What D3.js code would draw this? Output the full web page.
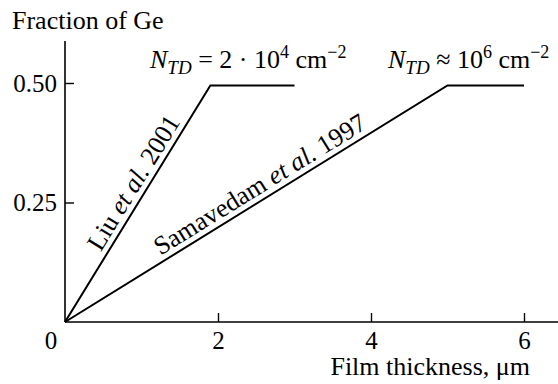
<!DOCTYPE html>
<html>
<head>
<meta charset="utf-8">
<script src="https://cdn.jsdelivr.net/npm/d3@7"></script>
<style>
  body { margin: 0; background: #fff; }
  svg { display: block; font-family: "Liberation Serif", "Times New Roman", serif; }
</style>
</head>
<body>
<svg id="chart" width="558" height="384"></svg>
<script>
// data
const xTicks = [2, 4, 6];
const yTicks = [0.25, 0.5];
const liuX = [0, 1.9, 3.0];
const liuY = [0, 0.495, 0.495];
const samX = [0, 5.0, 6.0];
const samY = [0, 0.495, 0.495];

const svg = d3.select("#chart");
const width = 558;
const fs = 26;

const x = d3.scaleLinear().domain([0, 6]).range([65, 524]);
const y = d3.scaleLinear().domain([0, 0.5]).range([322, 83]);

// axes lines
svg.append("line")
  .attr("x1", x(0)).attr("x2", width)
  .attr("y1", y(0)).attr("y2", y(0))
  .attr("stroke", "#000").attr("stroke-width", 1.6);
svg.append("line")
  .attr("x1", x(0)).attr("x2", x(0))
  .attr("y1", y(0)).attr("y2", 41)
  .attr("stroke", "#000").attr("stroke-width", 1.6);

// x ticks (pointing up, inside)
const xAxis = d3.axisBottom(x).tickValues(xTicks).tickSizeInner(-9).tickSizeOuter(0)
  .tickPadding(9).tickFormat(d3.format("d"));
svg.append("g")
  .attr("transform", `translate(0,${y(0)})`)
  .call(xAxis)
  .call((g) => g.select(".domain").remove())
  .call((g) => g.selectAll(".tick line").attr("stroke-width", 1.4))
  .call((g) => g.selectAll(".tick text").attr("font-size", 25).attr("font-family", "Liberation Serif"));

// y ticks (pointing right, inside)
const yAxis = d3.axisLeft(y).tickValues(yTicks).tickSizeInner(-9).tickSizeOuter(0)
  .tickFormat(d3.format(".2f"));
svg.append("g")
  .attr("transform", `translate(${x(0)},0)`)
  .call(yAxis)
  .call((g) => g.select(".domain").remove())
  .call((g) => g.selectAll(".tick line").attr("stroke-width", 1.4))
  .call((g) => g.selectAll(".tick text").attr("font-size", 25).attr("font-family", "Liberation Serif")
    .attr("x", -8));

// origin label
svg.append("text").attr("x", 51).attr("y", 349)
  .attr("text-anchor", "middle").attr("font-size", 25).text("0");

// titles
svg.append("text").attr("x", 12).attr("y", 29).attr("font-size", fs).text("Fraction of Ge");
svg.append("text").attr("x", 530).attr("y", 375).attr("text-anchor", "end")
  .attr("font-size", fs).text("Film thickness, μm");

// lines
const line = d3.line().x((d) => x(d[0])).y((d) => y(d[1]));
[[liuX, liuY], [samX, samY]].forEach(([xs, ys]) => {
  svg.append("path")
    .datum(xs.map((v, i) => [v, ys[i]]))
    .attr("d", line)
    .attr("fill", "none")
    .attr("stroke", "#000")
    .attr("stroke-width", 2);
});

// rotated labels along the rising segments
function slopeLabel(xs, ys, along, offset, parts) {
  const x0 = x(xs[0]), y0 = y(ys[0]);
  const dx = x(xs[1]) - x0, dy = y(ys[1]) - y0;
  const len = Math.hypot(dx, dy);
  const ux = dx / len, uy = dy / len;
  // normal pointing up-left of the line
  const nx = uy, ny = -ux;
  const px = x0 + ux * along + nx * offset;
  const py = y0 + uy * along + ny * offset;
  const ang = Math.atan2(dy, dx) * 180 / Math.PI;
  const t = svg.append("text")
    .attr("transform", `translate(${px},${py}) rotate(${ang})`)
    .attr("font-size", fs);
  parts.forEach(([s, it]) => t.append("tspan").attr("font-style", it ? "italic" : null).text(s));
}
slopeLabel(liuX, liuY, 78, 6, [["Liu ", false], ["et al.", true], [" 2001", false]]);
slopeLabel(samX, samY, 116, 6, [["Samavedam ", false], ["et al.", true], [" 1997", false]]);

// N_TD annotations
function ntd(xp, yp, parts) {
  const t = svg.append("text").attr("x", xp).attr("y", yp).attr("font-size", fs);
  t.append("tspan").attr("font-style", "italic").text("N");
  t.append("tspan").attr("font-style", "italic").attr("font-size", 19).attr("dy", 6).text("TD");
  parts.forEach(([s, shift, small]) => {
    t.append("tspan").attr("dy", shift).attr("font-size", small ? 18 : fs).text(s);
  });
}
ntd(150, 68, [[" = 2 · 10", -6, false], ["4", -10, true], [" cm", 10, false], ["−2", -10, true]]);
ntd(388, 68, [[" ≈ 10", -6, false], ["6", -10, true], [" cm", 10, false], ["−2", -10, true]]);
</script>
</body>
</html>
